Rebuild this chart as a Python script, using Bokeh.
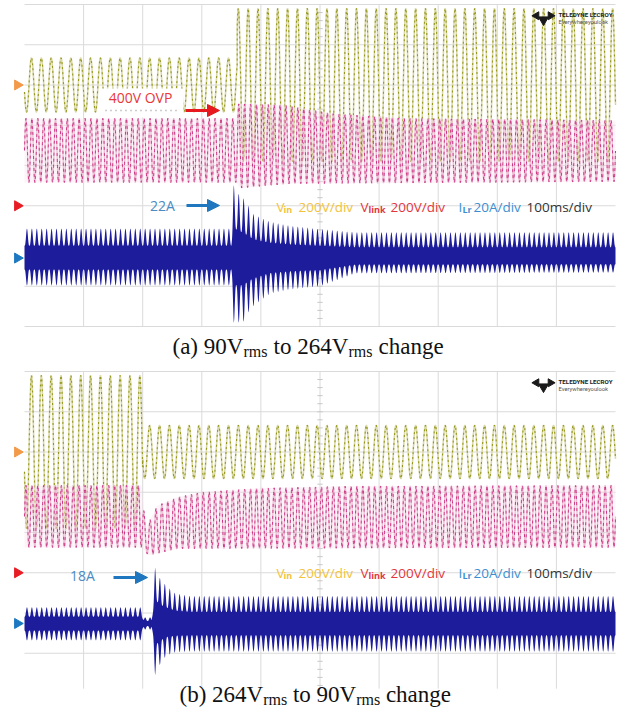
import numpy as np
from bokeh.plotting import figure
from bokeh.layouts import column
from bokeh.models import Arrow, NormalHead
from bokeh.core.properties import value
from bokeh.embed import file_html
from bokeh.resources import INLINE

# ---------------- values (units: scope divisions) ----------------
VIN_CYCLES_PER_DIV = 6        # 60 Hz line at 100 ms/div
VLINK_CYCLES_PER_DIV = 10
ILR_BURSTS_PER_DIV = 12       # 120 Hz envelope of the resonant current
VIN_PHASE = -2.88

# panel (a): 90 Vrms -> 264 Vrms
a_vin_ground = 2.0
a_vin_step = 3.6
a_vin_amp = [0.67, 1.9]
a_vl_t = [0, 3.58, 3.62, 4.4, 4.7, 5.2, 6.4, 10]
a_vl_top = [1.17, 1.17, 1.53, 1.50, 1.42, 1.29, 1.17, 1.12]
a_vl_bt = [0, 3.58, 3.65, 4.5, 10]
a_vl_bot = [-0.42, -0.42, -0.56, -0.45, -0.40]
a_il_ground = -2.3
a_il_t = [0, 3.50, 3.54, 3.62, 3.70, 3.79, 3.87, 4.0, 4.16, 4.5, 5.0, 5.6, 10]
a_il_up = [0.73, 0.73, 1.80, 1.60, 1.50, 1.30, 1.10, 1.00, 0.90, 0.80, 0.72, 0.64, 0.64]
a_il_dn = [0.68, 0.68, 1.60, 1.60, 1.60, 1.35, 1.20, 1.05, 0.88, 0.78, 0.70, 0.38, 0.36]

# panel (b): 264 Vrms -> 90 Vrms
b_vin_ground = 2.0
b_vin_step = 2.0
b_vin_amp = [1.9, 0.66]
b_vl_t = [0, 1.98, 2.05, 2.25, 2.6, 3.0, 4.0, 5.5, 10]
b_vl_top = [1.17, 1.17, 0.10, 0.67, 0.88, 1.00, 1.10, 1.15, 1.17]
b_vl_bt = [0, 1.98, 2.1, 2.6, 10]
b_vl_bot = [-0.37, -0.37, -0.57, -0.40, -0.37]
b_il_ground = -2.26
b_il_t = [0, 1.98, 2.02, 2.15, 2.21, 2.3, 2.4, 2.55, 2.8, 10]
b_il_up = [0.40, 0.40, 0.15, 0.15, 1.39, 1.10, 0.94, 0.75, 0.68, 0.68]
b_il_dn = [0.42, 0.42, 0.15, 0.15, 1.29, 1.00, 0.80, 0.72, 0.70, 0.70]

vlink_ground = -1.0

legend_main = ["V", "200V/div", "V", "200V/div", "I", "20A/div", "100ms/div"]
legend_sub = ["in", "link", "Lr"]

# ---------------- styling ----------------
W = 618
PXX = 59.1           # px per x division
PXY = 40.25          # px per y division
X0, X1 = -24 / PXX, (W - 24) / PXX
GRID = "#dadada"
OL_PALE, OL_DARK = "#dadaa8", "#96961e"
MG_PALE, MG_DARK, MG_FILL = "#ecbdd5", "#c8287a", "#f6dfeb"
BLUE = "#1d1d9c"
C_YEL, C_RED, C_BLU, C_GRY = "#f2c23c", "#e2363b", "#3b8fd0", "#333333"
SANS = value("Open Sans")
SERIF = value("Liberation Serif")


def hx(px):
    return (px - 24) / PXX


def make_panel(top_px, height, yc, vin_ground, vin_step, vin_amp, vl_t, vl_top, vl_bt, vl_bot,
               il_ground, il_t, il_up, il_dn, vgrid_bottom, draw_bottom, legend_px):
    vy = lambda py: (yc - py) / PXY
    yr = (vy(top_px + height), vy(top_px))
    p = figure(width=W, height=height, x_range=(X0, X1), y_range=yr,
               x_axis_type=None, y_axis_type=None, toolbar_location=None,
               output_backend="svg", min_border=0, outline_line_color=None,
               background_fill_color="white", border_fill_color="white")

    # scope graticule
    hs = [-4, -3, -2, -1, 0, 1, 2, 3, 4] if draw_bottom else [-3, -2, -1, 0, 1, 2, 3, 4]
    p.segment(x0=[0] * len(hs), x1=[10] * len(hs), y0=hs, y1=hs, line_color=GRID, line_width=1)
    vs = list(range(1, 10))
    p.segment(x0=vs, x1=vs, y0=[4] * 9, y1=[vgrid_bottom] * 9, line_color=GRID, line_width=1)
    ty = np.arange(-3.8, 4.0, 0.2)
    p.segment(x0=5 - 0.045, x1=5 + 0.045, y0=ty, y1=ty, line_color="#c8c8c8", line_width=1)
    tx = np.arange(0.2, 10.0, 0.2)
    p.segment(x0=tx, x1=tx, y0=-0.06, y1=0.06, line_color="#c8c8c8", line_width=1)

    t = np.linspace(0, 10, 6001)
    # V_in
    amp = np.where(t < vin_step, vin_amp[0], vin_amp[1])
    vin = vin_ground + amp * np.sin(2 * np.pi * VIN_CYCLES_PER_DIV * t + VIN_PHASE)
    p.line(t, vin, line_color=OL_PALE, line_width=1.6)
    p.line(t, vin, line_color=OL_DARK, line_width=1.1, line_dash="2 3")
    # V_link
    top = np.interp(t, vl_t, vl_top)
    bot = np.interp(t, vl_bt, vl_bot)
    mid, half = (top + bot) / 2, (top - bot) / 2
    vl = mid + half * np.sin(2 * np.pi * VLINK_CYCLES_PER_DIV * t)
    p.varea(x=t, y1=bot, y2=top, fill_color=MG_FILL, fill_alpha=0.35)
    p.line(t, vl, line_color=MG_PALE, line_width=1.3)
    p.line(t, vl, line_color=MG_DARK, line_width=1.0, line_dash="3 3", line_alpha=0.9)
    # I_Lr
    m = 0.42 + 0.58 * np.abs(np.sin(np.pi * ILR_BURSTS_PER_DIV * t)) ** 3
    up = np.interp(t, il_t, il_up) * m
    dn = np.interp(t, il_t, il_dn) * m
    p.varea(x=t, y1=il_ground - dn, y2=il_ground + up, fill_color=BLUE)

    # ground markers
    mx = hx(17)
    p.scatter([mx, mx, mx], [vin_ground, vlink_ground, il_ground], marker="triangle",
              angle=-np.pi / 2, size=10, color=["#f39a48", "#e81c24", "#1c78c0"])

    # legend line
    ly = vy(legend_px)
    p.text(x=[hx(v) for v in [276, 298, 360, 390, 458, 473, 526]], y=[ly] * 7, text=legend_main,
           text_color=[C_YEL, C_YEL, C_RED, C_RED, C_BLU, C_BLU, C_GRY],
           text_font=SANS, text_font_size=value("13.5px"), text_baseline="middle", text_align="left")
    p.text(x=[hx(v) for v in [283, 368, 462]], y=[ly - 0.08] * 3, text=legend_sub,
           text_color=[C_YEL, C_RED, C_BLU], text_font=SANS, text_font_size=value("9px"),
           text_font_style="bold", text_baseline="middle", text_align="left")

    # logo
    p.scatter([hx(543)], [3.62], marker="inverted_triangle", size=10, color="#1a1a1a")
    p.scatter([hx(536), hx(550)], [3.72, 3.72], marker="triangle", size=[8, 8],
              angle=[np.pi / 2, -np.pi / 2], color="#1a1a1a")
    p.text(x=[hx(558)], y=[3.73], text=["TELEDYNE LECROY"], text_font=value("Roboto"),
           text_font_size=value("6.2px"), text_font_style="bold", text_color="#222222",
           text_baseline="middle")
    p.text(x=[hx(558)], y=[3.56], text=["Everywhereyoulook"], text_font=value("Roboto"),
           text_font_size=value("5.8px"), text_color="#555555", text_baseline="middle")
    return p, vy


def caption(p, vy, center_px, main_txt, main_px, sub_px):
    cy = vy(center_px)
    p.text(x=[hx(v) for v in main_px], y=[cy] * len(main_txt), text=main_txt,
           text_font=SERIF, text_font_size=value("23px"), text_color="#111111",
           text_baseline="middle", text_align="left")
    p.text(x=[hx(v) for v in sub_px], y=[vy(center_px + 5)] * len(sub_px), text=["rms"] * len(sub_px),
           text_font=SERIF, text_font_size=value("16px"), text_color="#111111",
           text_baseline="middle", text_align="left")


# ---------------- panel (a) ----------------
pa, vya = make_panel(0, 362, 165,
                     a_vin_ground, a_vin_step, a_vin_amp, a_vl_t, a_vl_top, a_vl_bt, a_vl_bot,
                     a_il_ground, a_il_t, a_il_up, a_il_dn, -4, True, 206)
pa.quad(left=[hx(100)], right=[hx(183)], bottom=[vya(117)], top=[vya(88)],
        fill_color="white", line_color=None)
pa.text(x=[hx(140)], y=[vya(97)], text=["400V OVP"], text_color="#e8383a", text_font=SANS,
        text_font_size=value("14px"), text_align="center", text_baseline="middle")
pa.line([hx(105), hx(180)], [vya(110), vya(110)], line_color="#9a9a9a", line_width=1.5, line_dash="1 4")
pa.add_layout(Arrow(end=NormalHead(size=12, fill_color="#e8191e", line_color="#e8191e"),
                    x_start=hx(185), y_start=vya(110), x_end=hx(219), y_end=vya(110),
                    line_color="#e8191e", line_width=3))
pa.text(x=[hx(162)], y=[vya(205)], text=["22A"], text_color="#4a8cc4", text_font=SANS,
        text_font_size=value("14px"), text_align="center", text_baseline="middle")
pa.add_layout(Arrow(end=NormalHead(size=12, fill_color="#1f77c0", line_color="#1f77c0"),
                    x_start=hx(186), y_start=vya(205), x_end=hx(219), y_end=vya(205),
                    line_color="#1f77c0", line_width=3))
caption(pa, vya, 346, ["(a) 90V", "to 264V", "change"], [172, 273, 378], [243, 348])

# ---------------- panel (b) ----------------
pb, vyb = make_panel(362, 348, 532,
                     b_vin_ground, b_vin_step, b_vin_amp, b_vl_t, b_vl_top, b_vl_bt, b_vl_bot,
                     b_il_ground, b_il_t, b_il_up, b_il_dn, -3.88, False, 572)
pb.text(x=[hx(82)], y=[vyb(575)], text=["18A"], text_color="#4a8cc4", text_font=SANS,
        text_font_size=value("14px"), text_align="center", text_baseline="middle")
pb.add_layout(Arrow(end=NormalHead(size=12, fill_color="#1f77c0", line_color="#1f77c0"),
                    x_start=hx(113), y_start=vyb(577), x_end=hx(147), y_end=vyb(577),
                    line_color="#1f77c0", line_width=3))
caption(pb, vyb, 694, ["(b) 264V", "to", "90V", "change"], [179, 292.4, 316.1, 385.4], [262.7, 355.7])

layout = column(pa, pb, spacing=0)
open("out.html", "w").write(file_html(layout, INLINE))
